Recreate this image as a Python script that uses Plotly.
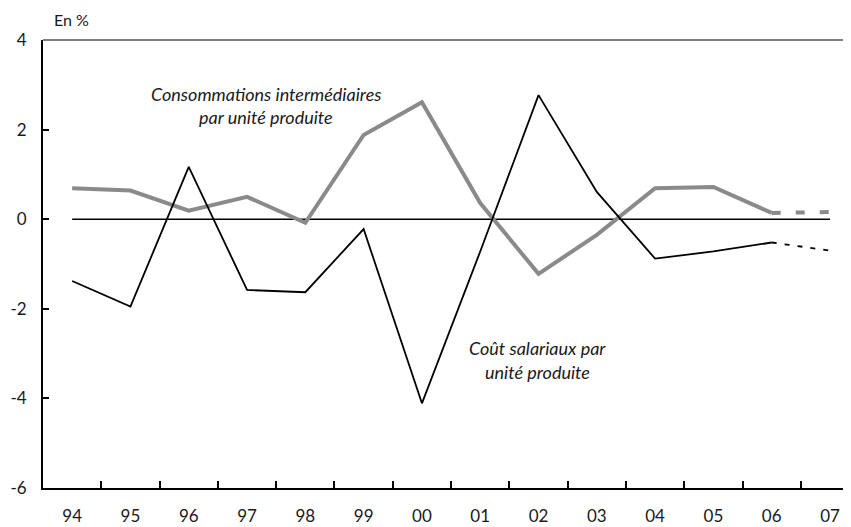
import plotly.graph_objects as go

# ---- data ----
years = ["94", "95", "96", "97", "98", "99", "00", "01", "02", "03", "04", "05", "06", "07"]
conso_inter = [0.69, 0.64, 0.19, 0.50, -0.08, 1.88, 2.61, 0.36, -1.22, -0.35, 0.69, 0.72, 0.14]
conso_inter_prev = [0.14, 0.16]          # 06 -> 07 (forecast)
cout_sal = [-1.38, -1.95, 1.17, -1.58, -1.63, -0.22, -4.11, -0.72, 2.77, 0.61, -0.88, -0.72, -0.52]
cout_sal_prev = [-0.52, -0.70]           # 06 -> 07 (forecast)
zero_line = [0] * len(years)
y_ticks = [-6, -4, -2, 0, 2, 4]
y_tick_labels = ["-6", "-4", "-2", "0", "2", "4"]

# the page body has an 8px default margin
OFF = 8
W, H = 851 - OFF, 527 - OFF
PL, PT, PB = 43, 40, 488          # plot area in page pixels (left, top, bottom)
L, R, T, B = PL - OFF, 0, PT - OFF, 527 - PB
pw, ph = 851 - PL, PB - PT


def px(x):
    return (x - PL) / pw


def py(y):
    return (PB - y) / ph


FONT = "Lato"
TXT = "#1a1a1a"
fig = go.Figure()

fig.add_trace(go.Scatter(x=years, y=zero_line, mode="lines",
                         line=dict(color="black", width=1.5), hoverinfo="skip"))
fig.add_trace(go.Scatter(x=years[:13], y=conso_inter, mode="lines",
                         line=dict(color="#8a8a8a", width=4)))
fig.add_trace(go.Scatter(x=years[12:14], y=conso_inter_prev, mode="lines",
                         line=dict(color="#8a8a8a", width=4, dash="9px,15px")))
fig.add_trace(go.Scatter(x=years[:13], y=cout_sal, mode="lines",
                         line=dict(color="black", width=1.8)))
fig.add_trace(go.Scatter(x=years[12:14], y=cout_sal_prev, mode="lines",
                         line=dict(color="black", width=1.8, dash="5px,8px")))

fig.update_layout(
    width=W, height=H,
    margin=dict(l=L, r=R, t=T, b=B, pad=0, autoexpand=False),
    paper_bgcolor="white", plot_bgcolor="white",
    showlegend=False,
    font=dict(family=FONT, size=17, color=TXT),
    xaxis=dict(type="category", range=[-0.5, 13.36], showgrid=False, zeroline=False,
               automargin=False,
               showline=True, linecolor="black", linewidth=2,
               ticks="inside", tickson="boundaries", ticklen=7, tickwidth=1.5,
               tickcolor="black", ticklabelstandoff=12,
               tickfont=dict(size=17, family=FONT, color=TXT)),
    yaxis=dict(range=[-6, 4], tickvals=y_ticks, ticktext=y_tick_labels,
               showgrid=False, zeroline=False, automargin=False,
               showline=True, linecolor="black", linewidth=2,
               ticks="inside", ticklen=6, tickwidth=1.5, tickcolor="black",
               ticklabelstandoff=11, tickfont=dict(size=17, family=FONT, color=TXT)),
)

# top border line
fig.add_shape(type="line", xref="paper", yref="paper", x0=0, x1=1, y0=1, y1=1,
              line=dict(color="black", width=1.2))

ann_font = dict(family=FONT, size=18, color=TXT)
texts = [
    ("En %", 71, 20, False),
    ("Consommations intermédiaires", 265.5, 94, True),
    ("par unité produite", 265.5, 117, True),
    ("Coût salariaux par", 537.5, 348, True),
    ("unité produite", 537.5, 372, True),
]
for t, x, y, it in texts:
    fig.add_annotation(text=f"<i>{t}</i>" if it else t, xref="paper", yref="paper",
                       x=px(x), y=py(y), xanchor="center", yanchor="middle",
                       showarrow=False, font=dict(ann_font, size=16) if not it else ann_font)

fig.write_html("out.html")
